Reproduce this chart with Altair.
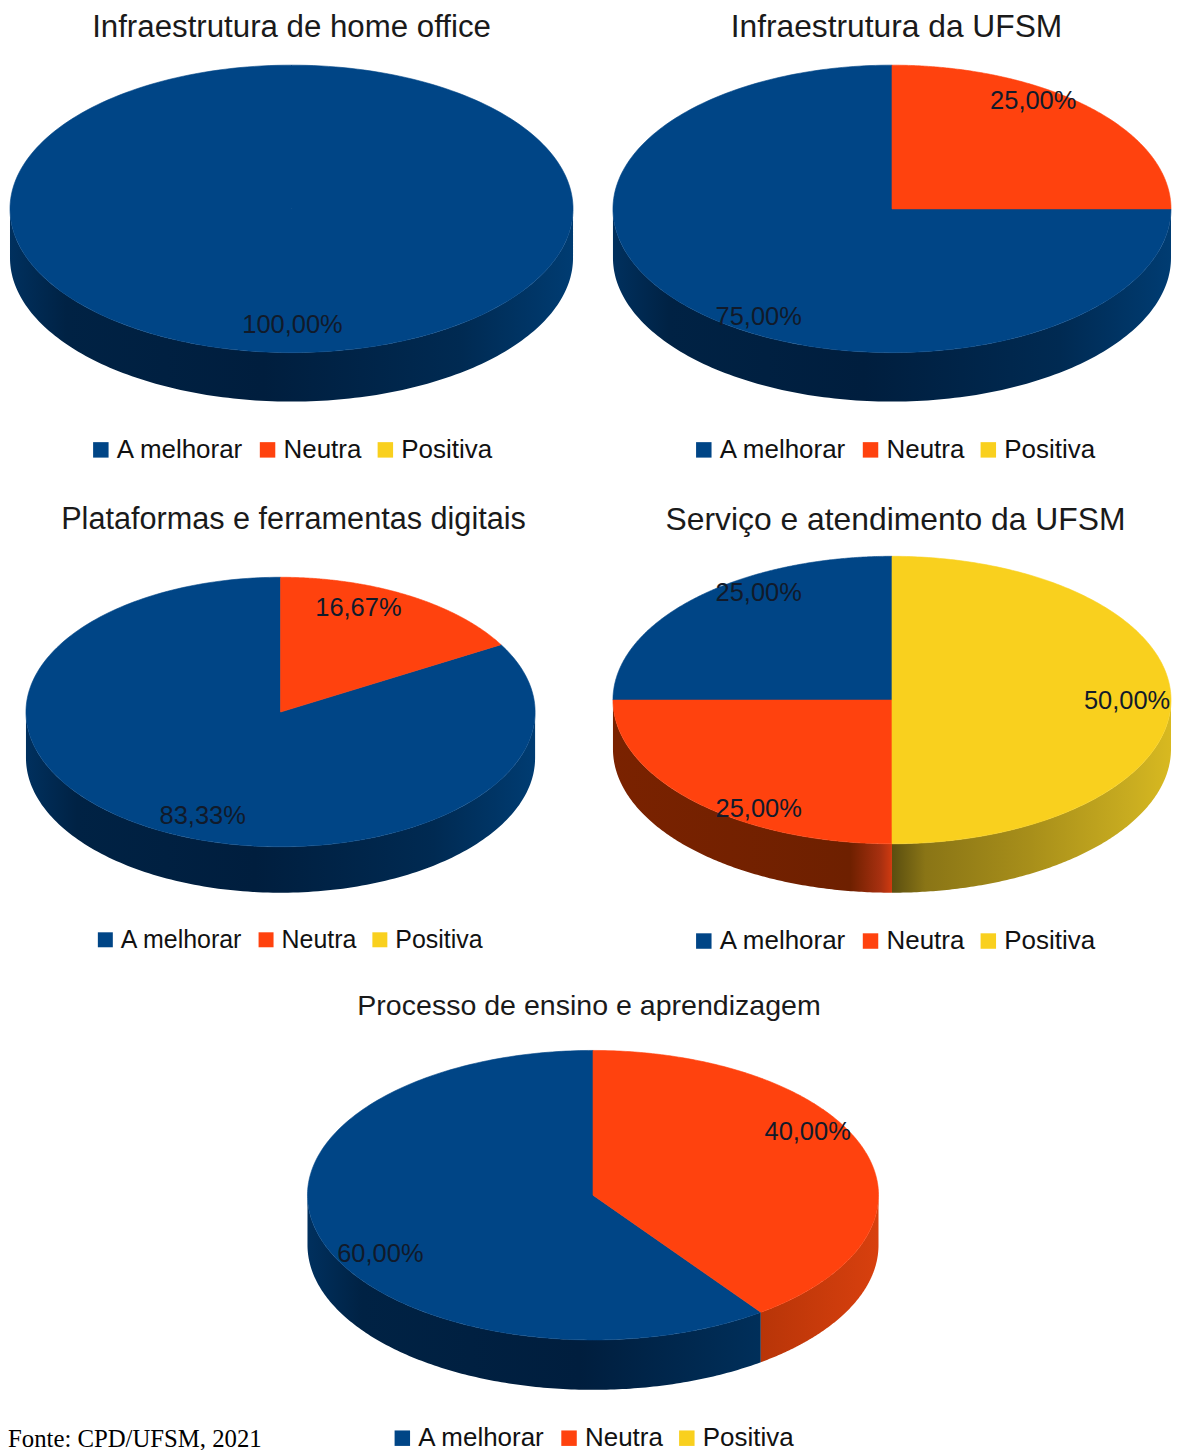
import numpy as np
import pandas as pd
import altair as alt

CATEGORIES = ["A melhorar", "Neutra", "Positiva"]
COLOURS = ["#004586", "#ff420e", "#f9d01e"]

TITLES = [
    "Infraestrutura de home office",
    "Infraestrutura da UFSM",
    "Plataformas e ferramentas digitais",
    "Serviço e atendimento da UFSM",
    "Processo de ensino e aprendizagem",
]
A_MELHORAR = [100.00, 75.00, 83.33, 25.00, 60.00]
NEUTRA = [0.00, 25.00, 16.67, 25.00, 40.00]
POSITIVA = [0.00, 0.00, 0.00, 50.00, 0.00]

BLUE = [(0, "#00305e"), (.1, "#002244"), (.45, "#001e3e"), (.8, "#002a52"), (1, "#003c72")]
BLUE_SHORT = [(0, "#00305e"), (.12, "#002244"), (.6, "#001e3e"), (1, "#002f5a")]
RED_DARK = [(0, "#7a2200"), (.85, "#6e2000"), (.96, "#a83010"), (1, "#d03a10")]
RED_LIGHT = [(0, "#b83508"), (1, "#d8400e")]
YELLOW = [(0, "#5a4e10"), (.12, "#8a7516"), (.5, "#a88f1a"), (.85, "#c8ac20"), (1, "#d8b920")]

# one entry per panel: frame (page px), pie centre/radii/depth (page px), title, legend, labels
PANELS = [
    dict(frame=(8, 8, 586, 482), pie=(292, 208, 282, 144, 49), title=(292, 35, 31.3),
         legend=(92, 449, 26, 240), labels=[(293, 324)], wall={0: BLUE}),
    dict(frame=(594, 8, 579, 482), pie=(893.5, 208, 279.5, 144, 49), title=(898, 35, 31.8),
         legend=(696, 449, 26, 240), labels=[(760, 316), (1035, 100)], wall={0: BLUE}),
    dict(frame=(8, 490, 586, 485), pie=(281, 712, 255, 135, 46), title=(294, 528, 30.7),
         legend=(97, 940, 25, 225), labels=[(203, 816), (359, 608)], wall={0: BLUE}),
    dict(frame=(594, 490, 579, 485), pie=(893.5, 700, 279.5, 144, 49), title=(897, 529, 31.9),
         legend=(696, 941, 26, 240), labels=[(760, 593), (760, 809), (1129, 701)],
         wall={1: RED_DARK, 2: YELLOW}),
    dict(frame=(8, 975, 1165, 467), pie=(594, 1196, 286, 145, 50), title=(590, 1014, 28.6),
         legend=(394, 1439, 26, 240), labels=[(381, 1255), (809, 1133)],
         wall={0: BLUE_SHORT, 1: RED_LIGHT}),
]


def pct(v):
    return f"{v:.2f}%".replace(".", ",")


def panel(i):
    p = PANELS[i]
    px, py, W, H = p["frame"]
    cx, cy, rx, ry, depth = p["pie"]
    d = depth / ry
    xscale = alt.Scale(domain=[(px - cx) / rx, (px + W - cx) / rx], nice=False, zero=False)
    yscale = alt.Scale(domain=[(cy - py - H) / ry, (cy - py) / ry], nice=False, zero=False)
    X = alt.X("x:Q", scale=xscale, axis=None)
    Y = alt.Y("y:Q", scale=yscale, axis=None)
    shares = [A_MELHORAR[i], NEUTRA[i], POSITIVA[i]]
    bounds = np.cumsum([0] + shares) / 100 * 2 * np.pi  # counter-clockwise from 12 o'clock

    layers = []
    # side walls: only the front half of the pie is visible
    for k, stops in p["wall"].items():
        a0, a1 = max(bounds[k], np.pi / 2), min(bounds[k + 1], 3 * np.pi / 2)
        t = np.linspace(a0, a1, 160)
        wall = pd.DataFrame({"x": -np.sin(t), "y": np.cos(t), "y2": np.cos(t) - d})
        grad = alt.Gradient(gradient="linear", x1=0, x2=1, y1=0, y2=0,
                            stops=[alt.GradientStop(offset=o, color=c) for o, c in stops])
        layers.append(alt.Chart(wall).mark_area(color=grad, stroke=None).encode(
            x=X, y=Y, y2=alt.Y2("y2:Q")))

    # top faces
    rows = []
    for k, cat in enumerate(CATEGORIES):
        if shares[k] <= 0:
            continue
        t = np.linspace(bounds[k], bounds[k + 1], 240)
        xs = np.r_[0, -np.sin(t), 0]
        ys = np.r_[0, np.cos(t), 0]
        rows.append(pd.DataFrame({"x": xs, "y": ys, "cat": cat, "n": np.arange(len(xs))}))
    top = pd.concat(rows, ignore_index=True)
    lx, ly, lfs, lsym = p["legend"]
    legend = alt.Legend(
        title=None, orient="none", legendX=lx - px - 4, legendY=ly - py - 12.6, direction="horizontal",
        columns=3, symbolType="square", symbolSize=lsym, symbolStrokeWidth=0,
        labelFont="Liberation Sans", labelFontSize=lfs, labelColor="#111111", labelOffset=3,
        columnPadding=10, labelLimit=300, symbolOpacity=1,
    )
    layers.append(alt.Chart(top).mark_line(strokeWidth=0.6, interpolate="linear").encode(
        x=X, y=Y, order="n:Q",
        fill=alt.Fill("cat:N", scale=alt.Scale(domain=CATEGORIES, range=COLOURS), legend=legend),
        stroke=alt.Stroke("cat:N", scale=alt.Scale(domain=CATEGORIES, range=COLOURS), legend=None),
    ))

    # value labels
    present = [k for k in range(3) if shares[k] > 0]
    lab = pd.DataFrame({
        "x": [(c[0] - cx) / rx for c in p["labels"]],
        "y": [(cy - c[1]) / ry for c in p["labels"]],
        "t": [pct(shares[k]) for k in present],
    })
    layers.append(alt.Chart(lab).mark_text(font="Liberation Sans", fontSize=25.5, color="#111a2a",
                                           align="center", baseline="middle").encode(
        x=X, y=Y, text="t:N"))

    if i == 4:
        note = pd.DataFrame({"t": ["Fonte: CPD/UFSM, 2021"]})
        layers.append(alt.Chart(note).mark_text(font="Liberation Serif", fontSize=24.8, color="#000000",
                                                align="left", baseline="alphabetic").encode(
            x=alt.value(0), y=alt.value(1448 - py), text="t:N"))

    tx, ty, ts = p["title"]
    title = alt.TitleParams(
        TITLES[i], anchor="middle", font="Liberation Sans", fontSize=ts, fontWeight="normal",
        color="#1a1a1a", baseline="top", offset=0, dy=ty - py + 0.21 * ts + 1, dx=tx - (px + W / 2),
    )
    return alt.layer(*layers).properties(width=W, height=H, title=title)


ind = dict(fill="independent", stroke="independent")
row1 = alt.hconcat(panel(0), panel(1), spacing=0).resolve_scale(**ind)
row2 = alt.hconcat(panel(2), panel(3), spacing=0).resolve_scale(**ind)
chart = (alt.vconcat(row1, row2, panel(4), spacing=0).resolve_scale(**ind)
         .properties(padding=0).configure_view(stroke=None))
chart.save("out.html", embed_options={"renderer": "svg", "actions": False})
